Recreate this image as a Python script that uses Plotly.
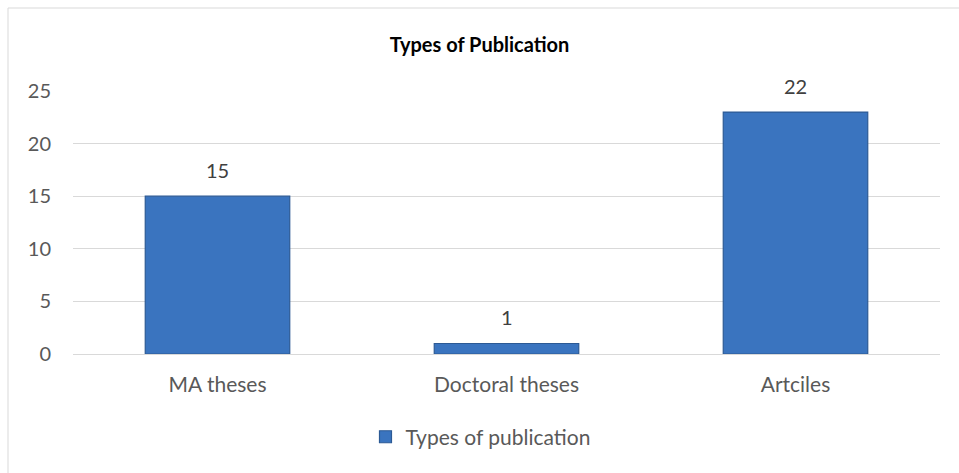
import plotly.graph_objects as go

categories = ["MA theses", "Doctoral theses", "Artciles"]
values = [15, 1, 23]
value_labels = ["15", "1", "22"]
series_name = "Types of publication"
title_text = "Types of Publication"
y_ticks = [0, 5, 10, 15, 20, 25]

FONT = "Lato, 'Open Sans', sans-serif"

fig = go.Figure()
fig.add_trace(go.Bar(
    x=categories, y=values, name=series_name,
    marker=dict(color="#3a74bf", line=dict(color="#2c5a95", width=1.2)),
    width=0.5, showlegend=True,
))

for c, v, t in zip(categories, values, value_labels):
    fig.add_annotation(x=c, y=v, text=t, showarrow=False, yanchor="bottom",
                       yshift=12, font=dict(family=FONT, size=20, color="#404040"))

fig.update_layout(
    width=959, height=473,
    margin=dict(l=73, r=19, t=91, b=119),
    paper_bgcolor="white", plot_bgcolor="white",
    title=dict(text="<b>" + title_text + "</b>", x=0.5, xanchor="center",
               y=1 - 45 / 473, yanchor="middle", xref="container",
               font=dict(family=FONT, size=20, color="#000000")),
    font=dict(family=FONT, size=20, color="#595959"),
    bargap=0.5,
    xaxis=dict(showgrid=False, showline=True, linecolor="#d9d9d9", linewidth=1,
               ticks="", ticklabelstandoff=12,
               tickfont=dict(family=FONT, size=21, color="#595959")),
    yaxis=dict(range=[0, 25], tickvals=y_ticks, showgrid=True, gridcolor="#d9d9d9",
               gridwidth=1, zeroline=False, showline=False, ticks="",
               ticklabelstandoff=21,
               tickfont=dict(family=FONT, size=20, color="#595959")),
    legend=dict(orientation="h", x=0.47, xanchor="center", y=-0.316, yanchor="middle",
                font=dict(family=FONT, size=21, color="#595959"), itemwidth=30),
    shapes=[
        dict(type="line", xref="paper", yref="paper", x0=-65/867, x1=1 + 19/867,
             y0=1 + 83/263, y1=1 + 83/263, line=dict(color="#d9d9d9", width=1)),
        dict(type="line", xref="paper", yref="paper", x0=-65/867, x1=-65/867,
             y0=1 + 83/263, y1=-119/263, line=dict(color="#d9d9d9", width=1)),
    ],
)

fig.write_html("out.html")
